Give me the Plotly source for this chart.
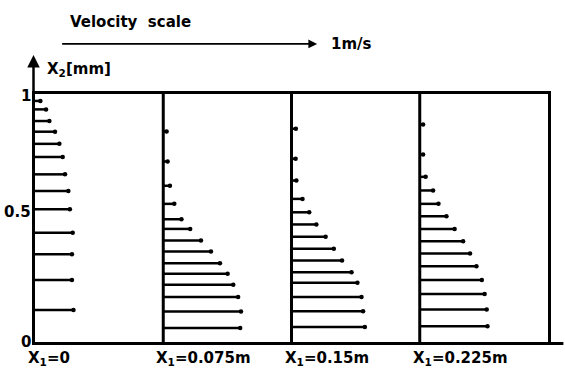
import plotly.graph_objects as go

# ---------------- data ----------------
stations_m = [0.0, 0.075, 0.15, 0.225]          # X1 positions [m]
station_labels = ["X<sub>1</sub>=0", "X<sub>1</sub>=0.075m",
                  "X<sub>1</sub>=0.15m", "X<sub>1</sub>=0.225m"]

# heights X2 [mm] and velocities u [m/s] for each station
x2_s1 = [0.972, 0.938, 0.891, 0.848, 0.799, 0.746, 0.676, 0.609, 0.535, 0.441, 0.354, 0.250, 0.129]
u_s1 = [0.021, 0.043, 0.056, 0.078, 0.095, 0.108, 0.117, 0.130, 0.136, 0.147, 0.144, 0.144, 0.150]

x2_s2 = [0.849, 0.728, 0.630, 0.557, 0.495, 0.456, 0.409, 0.365, 0.318, 0.275, 0.231, 0.181, 0.123, 0.056]
u_s2 = [0.013, 0.017, 0.026, 0.043, 0.071, 0.105, 0.147, 0.186, 0.221, 0.251, 0.273, 0.292, 0.303, 0.300]

x2_s3 = [0.860, 0.739, 0.651, 0.577, 0.523, 0.474, 0.424, 0.376, 0.329, 0.281, 0.239, 0.181, 0.124, 0.060]
u_s3 = [0.017, 0.016, 0.019, 0.043, 0.069, 0.097, 0.133, 0.165, 0.197, 0.234, 0.257, 0.273, 0.279, 0.286]

x2_s4 = [0.877, 0.756, 0.666, 0.611, 0.557, 0.507, 0.456, 0.406, 0.357, 0.305, 0.250, 0.194, 0.131, 0.064]
u_s4 = [0.013, 0.013, 0.023, 0.052, 0.073, 0.104, 0.136, 0.169, 0.196, 0.221, 0.242, 0.253, 0.261, 0.264]

y_ticks = [0, 0.5, 1]
y_ticktext = ["0", "0.5", "1"]
velocity_scale = 1.0  # m/s reference arrow

profiles = [(x2_s1, u_s1), (x2_s2, u_s2), (x2_s3, u_s3), (x2_s4, u_s4)]

# drawing: x axis in m/s; stations spaced so 0.075 m -> 0.5 units
STATION_SCALE = 0.5 / 0.075
offsets = [s * STATION_SCALE for s in stations_m]

FONT = dict(family="DejaVu Sans", size=15, color="black")


def bold(t):
    return "<b>" + t + "</b>"


fig = go.Figure()
for off, (x2, u) in zip(offsets, profiles):
    xs, ys = [], []
    for yy, uu in zip(x2, u):
        xs += [off, off + uu, None]
        ys += [yy, yy, None]
    fig.add_trace(go.Scatter(x=xs, y=ys, mode="lines",
                             line=dict(color="black", width=2.5),
                             hoverinfo="skip", showlegend=False, cliponaxis=False))
    fig.add_trace(go.Scatter(x=[off + uu for uu in u], y=x2, mode="markers",
                             marker=dict(color="black", size=4.5),
                             hoverinfo="skip", showlegend=False, cliponaxis=False))

shapes = []
for off in offsets[1:]:
    shapes.append(dict(type="line", xref="x", yref="y", x0=off, x1=off, y0=0, y1=1,
                       line=dict(color="black", width=3)))
# bottom line extension beyond the frame
shapes.append(dict(type="line", xref="paper", yref="paper", x0=0.99, x1=1.03,
                   y0=-0.006, y1=-0.006, line=dict(color="black", width=3)))

annotations = []
# y axis arrow
annotations.append(dict(xref="paper", yref="paper", x=0, y=1.157, xshift=-1.5,
                        ax=0, ay=284, axref="pixel", ayref="pixel", text="",
                        showarrow=True, arrowhead=2, arrowsize=1, arrowwidth=2.5,
                        arrowcolor="black", standoff=0))
annotations.append(dict(xref="paper", yref="paper", x=0.02, y=1.097, xanchor="left",
                        yanchor="middle", text=bold("X<sub>2</sub>[mm]"), showarrow=False,
                        font=FONT))
# velocity scale arrow
annotations.append(dict(xref="x", yref="paper", x=0.1 + velocity_scale, y=1.202,
                        axref="x", ax=0.1, ayref="pixel", ay=0, text="",
                        showarrow=True, arrowhead=2, arrowsize=1.1, arrowwidth=1.6,
                        arrowcolor="black", standoff=0))
annotations.append(dict(xref="x", yref="paper", x=0.13, y=1.29, xanchor="left",
                        yanchor="middle", text=bold("Velocity&nbsp;&nbsp;scale"),
                        showarrow=False, font=FONT))
annotations.append(dict(xref="x", yref="paper", x=0.1 + velocity_scale + 0.045, y=1.2,
                        xanchor="left", yanchor="middle", text=bold("1m/s"),
                        showarrow=False, font=FONT))
# y tick labels
for v, t, ys in zip(y_ticks, y_ticktext, [0, 6, -2]):
    annotations.append(dict(xref="paper", yref="y", x=0, y=v, xanchor="right",
                            yanchor="middle", xshift=-2, yshift=ys, text=bold(t),
                            showarrow=False, font=FONT))
# station labels
for off, lab in zip(offsets, station_labels):
    annotations.append(dict(xref="x", yref="paper", x=off, y=-0.065, xanchor="left",
                            yanchor="middle", xshift=-9, text=bold(lab), showarrow=False,
                            font=FONT))

axis_common = dict(showline=True, mirror=True, linecolor="black", linewidth=3,
                   showgrid=False, zeroline=False, ticks="", showticklabels=False)

fig.update_layout(
    width=565, height=370,
    margin=dict(l=35, r=17, t=94, b=28),
    paper_bgcolor="white", plot_bgcolor="white",
    xaxis=dict(range=[0, 2.0], **axis_common),
    yaxis=dict(range=[0, 1], **axis_common),
    shapes=shapes, annotations=annotations,
    showlegend=False,
)

fig.write_html("out.html")
